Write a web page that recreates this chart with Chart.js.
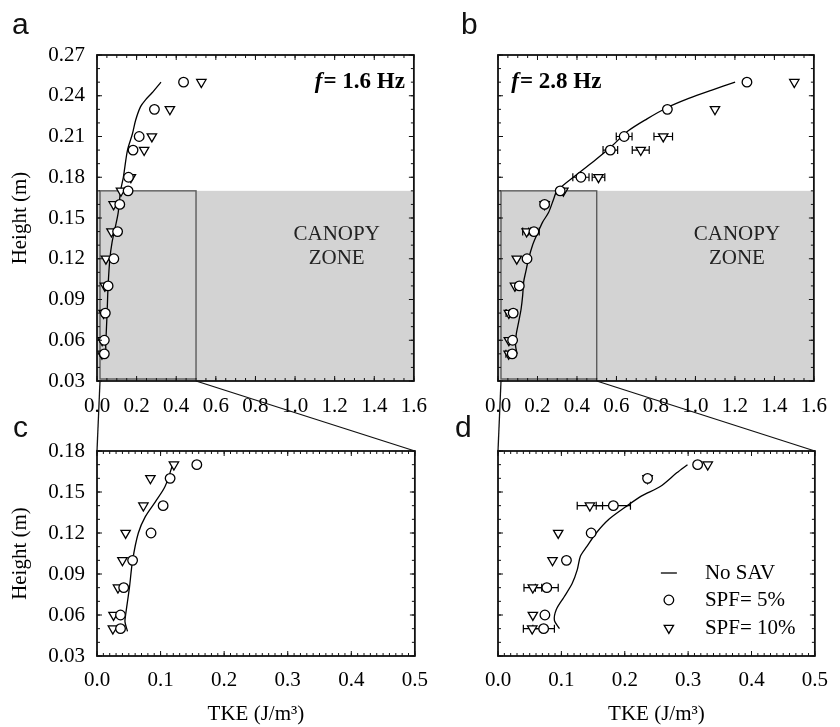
<!DOCTYPE html>
<html>
<head>
<meta charset="utf-8">
<script src="https://cdn.jsdelivr.net/npm/chart.js@4.4.1/dist/chart.umd.min.js"></script>
<style>
body { margin: 0; background: #fff; width: 840px; height: 727px; position: relative; overflow: hidden; }
canvas { position: absolute; }
.lab { position: absolute; font: 30px "Liberation Sans", Arial, sans-serif; line-height: 30px; color: #111; }
</style>
</head>
<body>
<canvas id="ca" width="440" height="420" style="left:0;top:0"></canvas>
<canvas id="cb" width="400" height="420" style="left:440px;top:0"></canvas>
<canvas id="cc" width="440" height="307" style="left:0;top:420px"></canvas>
<canvas id="cd" width="400" height="307" style="left:440px;top:420px"></canvas>
<canvas id="links" width="840" height="727" style="left:0;top:0;pointer-events:none"></canvas>
<div class="lab" style="left:12px;top:9px">a</div>
<div class="lab" style="left:461px;top:9px">b</div>
<div class="lab" style="left:13px;top:412px">c</div>
<div class="lab" style="left:455px;top:412px">d</div>
<script>
// measurement heights (m)
const heights = [0.05, 0.06, 0.08, 0.10, 0.12, 0.14, 0.16, 0.17, 0.18, 0.20, 0.21, 0.23, 0.25];

// f = 1.6 Hz
const spf5_16  = [0.037, 0.037, 0.042, 0.056, 0.085, 0.104, 0.115, 0.157, 0.159, 0.182, 0.213, 0.290, 0.437];
const spf10_16 = [0.025, 0.026, 0.033, 0.040, 0.045, 0.073, 0.084, 0.121, 0.171, 0.238, 0.277, 0.368, 0.527];
const noSavH_16 = [0.048, 0.055, 0.06, 0.08, 0.10, 0.12, 0.132, 0.143, 0.154, 0.17, 0.18, 0.20, 0.212, 0.222, 0.232, 0.237, 0.242, 0.25];
const noSav_16  = [0.048, 0.044, 0.045, 0.051, 0.056, 0.065, 0.076, 0.092, 0.107, 0.119, 0.133, 0.154, 0.179, 0.195, 0.220, 0.245, 0.277, 0.323];

// f = 2.8 Hz
const spf5_28  = [0.072, 0.074, 0.077, 0.108, 0.147, 0.182, 0.236, 0.315, 0.420, 0.569, 0.639, 0.858, 1.261];
const err5_28  = [0.017, 0, 0.018, 0, 0, 0.027, 0, 0, 0.041, 0.037, 0.040, 0, 0];
const spf10_28 = [0.054, 0.055, 0.055, 0.086, 0.095, 0.145, 0.236, 0.331, 0.509, 0.723, 0.837, 1.099, 1.501];
const err10_28 = [0.014, 0, 0.014, 0, 0, 0.020, 0, 0, 0.032, 0.043, 0.047, 0, 0];
const noSavH_28 = [0.050, 0.056, 0.064, 0.073, 0.083, 0.093, 0.103, 0.110, 0.120, 0.130, 0.139, 0.147, 0.154, 0.164, 0.170,
                   0.182, 0.193, 0.203, 0.214, 0.223, 0.231, 0.238, 0.244, 0.250];
const noSav_28  = [0.097, 0.089, 0.092, 0.104, 0.117, 0.125, 0.130, 0.140, 0.155, 0.175, 0.201, 0.226, 0.256, 0.282, 0.299,
                   0.399, 0.496, 0.577, 0.658, 0.755, 0.853, 0.966, 1.080, 1.201];

// axes
const topXTicks = [0.0, 0.2, 0.4, 0.6, 0.8, 1.0, 1.2, 1.4, 1.6];
const topYTicks = [0.03, 0.06, 0.09, 0.12, 0.15, 0.18, 0.21, 0.24, 0.27];
const botXTicks = [0.0, 0.1, 0.2, 0.3, 0.4, 0.5];
const botYTicks = [0.03, 0.06, 0.09, 0.12, 0.15, 0.18];
const canopyTop = 0.17;
const zoomBox = [0.0, 0.5];
const legendLabels = ['No SAV', 'SPF= 5%', 'SPF= 10%'];

const SERIF = '"Liberation Serif", "Times New Roman", serif';
Chart.defaults.font.family = SERIF;
Chart.defaults.font.size = 21;
Chart.defaults.color = '#000';

function pts(xs, ys, errs, maxH) {
    return ys.map((h, i) => ({x: xs[i], y: h, e: errs ? errs[i] : 0}))
             .filter(p => p.y <= maxH + 1e-9);
}

function datasets(s5, s10, e5, e10, lx, ly, maxH) {
    return [
        {label: legendLabels[1], data: pts(s5, heights, e5, maxH), pointStyle: 'circle', pointRadius: 4.8,
         backgroundColor: '#fff', borderColor: '#000', borderWidth: 1.3},
        {label: legendLabels[2], data: pts(s10, heights, e10, maxH), pointStyle: 'triangle', pointRotation: 180,
         pointRadius: 5.4, backgroundColor: '#fff', borderColor: '#000', borderWidth: 1.3},
        {label: legendLabels[0], data: pts(lx, ly, null, maxH), showLine: true, pointRadius: 0,
         borderColor: '#000', borderWidth: 1.3, tension: 0.3, fill: false}
    ];
}

function fmt(d) { return v => Number(v).toFixed(d); }

const figPlugin = {
    id: 'fig',
    beforeDatasetsDraw(chart, args, o) {
        const {ctx, chartArea: a, scales: {x, y}} = chart;
        if (o.canopy) {
            const yt = y.getPixelForValue(canopyTop), yb = y.getPixelForValue(y.min);
            ctx.save();
            ctx.fillStyle = '#d3d3d3';
            ctx.fillRect(a.left, yt, a.right - a.left, yb - yt);
            const x0 = x.getPixelForValue(zoomBox[0]), x1 = x.getPixelForValue(zoomBox[1]);
            ctx.strokeStyle = '#5c5c5c';
            ctx.lineWidth = 1.4;
            ctx.strokeRect(x0 + 3, yt, x1 - x0 - 3, yb - yt - 2);
            ctx.restore();
        }
        // horizontal error bars
        ctx.save();
        ctx.strokeStyle = '#000';
        ctx.lineWidth = 1.2;
        ctx.beginPath();
        ctx.rect(a.left, a.top, a.right - a.left, a.bottom - a.top);
        ctx.clip();
        chart.data.datasets.forEach(ds => {
            ds.data.forEach(p => {
                if (!p.e) return;
                const xl = x.getPixelForValue(p.x - p.e), xr = x.getPixelForValue(p.x + p.e);
                const py = y.getPixelForValue(p.y);
                ctx.beginPath();
                ctx.moveTo(xl, py); ctx.lineTo(xr, py);
                ctx.moveTo(xl, py - 4); ctx.lineTo(xl, py + 4);
                ctx.moveTo(xr, py - 4); ctx.lineTo(xr, py + 4);
                ctx.stroke();
            });
        });
        ctx.restore();
    },
    afterDraw(chart, args, o) {
        const {ctx, chartArea: a, scales: {x, y}} = chart;
        ctx.save();
        ctx.strokeStyle = '#111';
        ctx.lineWidth = 1;
        // inward ticks on all four sides
        const tickRun = (sc, step, len, horiz) => {
            const n = Math.round((sc.max - sc.min) / step);
            for (let i = 0; i <= n; i++) {
                const p = sc.getPixelForValue(sc.min + i * step);
                ctx.beginPath();
                if (horiz) {
                    ctx.moveTo(p, a.bottom); ctx.lineTo(p, a.bottom - len);
                    ctx.moveTo(p, a.top); ctx.lineTo(p, a.top + len);
                } else {
                    ctx.moveTo(a.left, p); ctx.lineTo(a.left + len, p);
                    ctx.moveTo(a.right, p); ctx.lineTo(a.right - len, p);
                }
                ctx.stroke();
            }
        };
        tickRun(x, o.xMinor, 3, true);
        tickRun(y, o.yMinor, 3, false);
        x.ticks.forEach(t => {
            const p = x.getPixelForValue(t.value);
            ctx.beginPath();
            ctx.moveTo(p, a.bottom); ctx.lineTo(p, a.bottom - 5);
            ctx.moveTo(p, a.top); ctx.lineTo(p, a.top + 5);
            ctx.stroke();
        });
        y.ticks.forEach(t => {
            const p = y.getPixelForValue(t.value);
            ctx.beginPath();
            ctx.moveTo(a.left, p); ctx.lineTo(a.left + 5, p);
            ctx.moveTo(a.right, p); ctx.lineTo(a.right - 5, p);
            ctx.stroke();
        });
        ctx.lineWidth = 1.8;
        ctx.strokeRect(a.left, a.top, a.right - a.left, a.bottom - a.top);

        ctx.fillStyle = '#000';
        ctx.textBaseline = 'middle';
        if (o.freq) {
            const fx = x.getPixelForValue(o.freq.x), fy = y.getPixelForValue(o.freq.y);
            ctx.textAlign = 'left';
            ctx.font = 'italic bold 23px ' + SERIF;
            ctx.fillText('f', fx, fy);
            const w = ctx.measureText('f').width;
            ctx.font = 'bold 23px ' + SERIF;
            ctx.fillText('= ' + o.freq.text + ' Hz', fx + w + 1, fy);
        }
        if (o.canopy) {
            ctx.font = '21px ' + SERIF;
            ctx.textAlign = 'center';
            ctx.fillStyle = '#222';
            ctx.fillText('CANOPY', x.getPixelForValue(1.21), y.getPixelForValue(0.1375));
            ctx.fillText('ZONE', x.getPixelForValue(1.21), y.getPixelForValue(0.1205));
        }
        if (o.legend) {
            const sx = a.right - 146, tx = a.right - 110;
            const rows = [a.bottom - 83, a.bottom - 56, a.bottom - 28];
            ctx.font = '21px ' + SERIF;
            ctx.textAlign = 'left';
            ctx.fillStyle = '#000';
            ctx.lineWidth = 1.3;
            ctx.strokeStyle = '#000';
            const ds = chart.data.datasets;
            // line sample
            ctx.beginPath();
            ctx.moveTo(sx - 8, rows[0]); ctx.lineTo(sx + 8, rows[0]);
            ctx.stroke();
            ctx.fillText(ds[2].label, tx, rows[0]);
            // circle
            ctx.beginPath();
            ctx.arc(sx, rows[1], 4.8, 0, Math.PI * 2);
            ctx.fillStyle = '#fff'; ctx.fill(); ctx.stroke();
            ctx.fillStyle = '#000';
            ctx.fillText(ds[0].label, tx, rows[1]);
            // down triangle
            const r = 5.4, h = r * 1.5, hw = r * Math.sqrt(3) / 2;
            ctx.beginPath();
            ctx.moveTo(sx - hw, rows[2] - h / 3);
            ctx.lineTo(sx + hw, rows[2] - h / 3);
            ctx.lineTo(sx, rows[2] + 2 * h / 3);
            ctx.closePath();
            ctx.fillStyle = '#fff'; ctx.fill(); ctx.stroke();
            ctx.fillStyle = '#000';
            ctx.fillText(ds[1].label, tx, rows[2]);
        }
        ctx.restore();
    }
};

function makeChart(id, cfg) {
    const yScale = {
        type: 'linear', min: cfg.yTicks[0], max: cfg.yTicks[cfg.yTicks.length - 1],
        grid: {display: false, drawTicks: false}, border: {display: false},
        afterBuildTicks: s => { s.ticks = cfg.yTicks.map(v => ({value: v})); },
        afterFit: s => { s.width = cfg.left; },
        ticks: {display: cfg.yLabels, padding: 12, callback: fmt(2), font: {size: 21}},
        title: {display: cfg.yLabels, text: 'Height (m)', font: {size: 21}, padding: {top: 8, bottom: 0}}
    };
    const xScale = {
        type: 'linear', min: cfg.xTicks[0], max: cfg.xTicks[cfg.xTicks.length - 1],
        grid: {display: false, drawTicks: false}, border: {display: false},
        afterBuildTicks: s => { s.ticks = cfg.xTicks.map(v => ({value: v})); },
        afterFit: s => { s.height = cfg.xh; },
        ticks: {padding: cfg.xpad, callback: fmt(1), font: {size: 21}, maxRotation: 0, autoSkip: false},
        title: {display: cfg.xTitle, text: 'TKE (J/m³)', font: {size: 21}, padding: {top: 0, bottom: 0}}
    };
    return new Chart(document.getElementById(id), {
        type: 'scatter',
        data: {datasets: cfg.datasets},
        options: {
            responsive: false,
            animation: false,
            events: [],
            layout: {padding: {left: 0, top: cfg.top, right: cfg.right, bottom: 0}},
            scales: {x: xScale, y: yScale},
            plugins: {
                legend: {display: false},
                tooltip: {enabled: false},
                fig: cfg.fig
            }
        },
        plugins: [figPlugin]
    });
}

const chartA = makeChart('ca', {
    datasets: datasets(spf5_16, spf10_16, null, null, noSav_16, noSavH_16, 1),
    xTicks: topXTicks, yTicks: topYTicks, left: 97, right: 18, top: 55, xh: 39, xpad: 13,
    yLabels: true, xTitle: false,
    fig: {canopy: true, xMinor: 0.05, yMinor: 0.01, freq: {x: 1.1, y: 0.25, text: '1.6'}}
});
const chartB = makeChart('cb', {
    datasets: datasets(spf5_28, spf10_28, err5_28, err10_28, noSav_28, noSavH_28, 1),
    xTicks: topXTicks, yTicks: topYTicks, left: 58, right: 13, top: 55, xh: 39, xpad: 13,
    yLabels: false, xTitle: false,
    fig: {canopy: true, xMinor: 0.05, yMinor: 0.01, freq: {x: 0.067, y: 0.25, text: '2.8'}}
});
const chartC = makeChart('cc', {
    datasets: datasets(spf5_16, spf10_16, null, null, noSav_16, noSavH_16, canopyTop),
    xTicks: botXTicks, yTicks: botYTicks, left: 97, right: 18, top: 31, xh: 71, xpad: 12,
    yLabels: true, xTitle: true,
    fig: {canopy: false, xMinor: 0.01, yMinor: 0.01}
});
const chartD = makeChart('cd', {
    datasets: datasets(spf5_28, spf10_28, err5_28, err10_28, noSav_28, noSavH_28, canopyTop),
    xTicks: botXTicks, yTicks: botYTicks, left: 58, right: 13, top: 31, xh: 71, xpad: 12,
    yLabels: false, xTitle: true,
    fig: {canopy: false, xMinor: 0.01, yMinor: 0.01, legend: true}
});

// zoom connector lines from the canopy box to the lower panels
function connect(upper, lower) {
    const ctx = document.getElementById('links').getContext('2d');
    const at = (ch, xv, yv) => [ch.canvas.offsetLeft + ch.scales.x.getPixelForValue(xv),
                                ch.canvas.offsetTop + ch.scales.y.getPixelForValue(yv)];
    const yb = upper.scales.y.min, yt = lower.scales.y.max;
    ctx.strokeStyle = '#111';
    ctx.lineWidth = 1.3;
    zoomBox.forEach(xv => {
        const p = at(upper, xv, yb), q = at(lower, xv, yt);
        ctx.beginPath();
        ctx.moveTo(p[0] + (xv === zoomBox[0] ? 3 : 0), p[1]);
        ctx.lineTo(q[0], q[1]);
        ctx.stroke();
    });
}
connect(chartA, chartC);
connect(chartB, chartD);
</script>
</body>
</html>
